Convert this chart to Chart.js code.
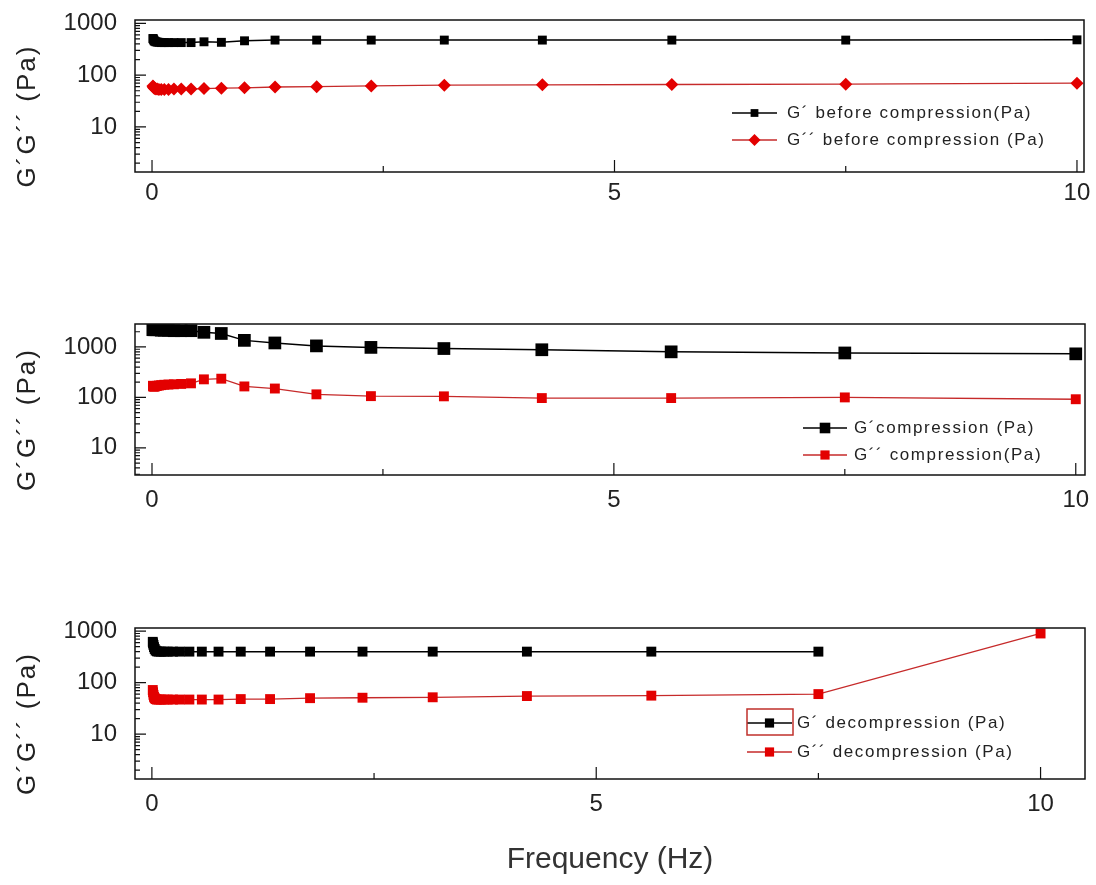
<!DOCTYPE html>
<html>
<head>
<meta charset="utf-8">
<script src="https://cdn.jsdelivr.net/npm/chart.js@4/dist/chart.umd.min.js"></script>
<style>
  html, body { margin: 0; padding: 0; background: #fff; }
  #wrap { position: relative; width: 1096px; height: 885px; }
  canvas { position: absolute; left: 0; }
</style>
</head>
<body>
<div id="wrap">
  <canvas id="c1" width="1096" height="290" style="top:0"></canvas>
  <canvas id="c2" width="1096" height="290" style="top:300px"></canvas>
  <canvas id="c3" width="1096" height="285" style="top:600px"></canvas>
</div>
<script>
// Frequency sweep (Hz)
const freq = [0.01, 0.0133, 0.0178, 0.0237, 0.0316, 0.0422, 0.0562, 0.075, 0.1, 0.133, 0.178, 0.237,
  0.316, 0.422, 0.562, 0.75, 1.0, 1.33, 1.78, 2.37, 3.16, 4.22, 5.62, 7.5, 10];

// Panel 1: before compression
const gBefore = [510, 500, 480, 460, 450, 440, 435, 430, 425, 425, 425, 425, 425, 425, 440, 430, 460, 475,
  475, 475, 475, 475, 475, 475, 480];
const ggBefore = [62, 60, 58, 56, 55, 54, 54, 53, 53, 53, 53, 54, 54, 54, 55, 56, 57, 59, 60, 62, 64, 65, 66, 67, 70];

// Panel 2: compression
const gComp = [2200, 2200, 2200, 2200, 2200, 2200, 2200, 2200, 2150, 2150, 2150, 2100, 2100, 2100, 1950, 1850,
  1350, 1200, 1050, 980, 930, 880, 800, 760, 730];
const ggComp = [170, 165, 165, 165, 165, 168, 170, 172, 175, 178, 180, 182, 185, 190, 228, 235, 165, 150, 115,
  106, 105, 97, 97, 100, 92];

// Panel 3: decompression (G' has no point at 10 Hz)
const gDecomp = [620, 580, 540, 490, 450, 420, 405, 400, 400, 400, 400, 400, 400, 400, 400, 400, 400, 400,
  400, 400, 400, 400, 400, 400];
const ggDecomp = [72, 65, 58, 53, 50, 48, 47, 47, 47, 47, 47, 47, 47, 47, 47, 47, 48, 48, 50, 51, 52, 55, 56, 60, 900];

const yTickValues = [10, 100, 1000];
const xTickValues = [0, 5, 10];
const xMinorTicks = [2.5, 7.5];

const labels1 = ['G´ before compression(Pa)', 'G´´ before compression (Pa)'];
const labels2 = ['G´compression (Pa)', 'G´´ compression(Pa)'];
const labels3 = ['G´ decompression (Pa)', 'G´´ decompression (Pa)'];

const FONT = "'Liberation Sans', Arial, sans-serif";
const BLACK = '#000000';
const RED_LINE = '#c62a2a';
const RED_MARK = '#e30000';

const pts = (ys) => ys.map((y, i) => ({ x: freq[i], y }));

// box around the plot + inward ticks
const framePlugin = {
  id: 'frame',
  afterDraw(chart) {
    const { ctx, chartArea: a, scales: { x, y } } = chart;
    ctx.save();
    ctx.strokeStyle = '#111';
    ctx.lineWidth = 1.5;
    ctx.strokeRect(a.left, a.top, a.right - a.left, a.bottom - a.top);
    ctx.beginPath();
    ctx.lineWidth = 1.2;
    for (let d = 1; d <= 1000; d *= 10) {
      for (let m = 1; m < 10; m++) {
        const v = d * m;
        if (v < y.min || v > y.max) continue;
        const py = y.getPixelForValue(v);
        ctx.moveTo(a.left, py);
        ctx.lineTo(a.left + (m === 1 ? 11 : 5), py);
      }
    }
    xTickValues.forEach(v => {
      const px = x.getPixelForValue(v);
      ctx.moveTo(px, a.bottom);
      ctx.lineTo(px, a.bottom - 12);
    });
    xMinorTicks.forEach(v => {
      const px = x.getPixelForValue(v);
      ctx.moveTo(px, a.bottom);
      ctx.lineTo(px, a.bottom - 6);
    });
    ctx.stroke();
    ctx.restore();
  }
};

// rotated y title, a bit below the plot centre like the original
const yTitlePlugin = {
  id: 'yTitle',
  afterDraw(chart, args, opts) {
    const { ctx, chartArea: a } = chart;
    ctx.save();
    ctx.translate(28, (a.top + a.bottom) / 2 + 20);
    ctx.rotate(-Math.PI / 2);
    ctx.font = `26px ${FONT}`;
    if ('letterSpacing' in ctx) ctx.letterSpacing = '2px';
    ctx.textAlign = 'center';
    ctx.textBaseline = 'middle';
    ctx.fillStyle = '#222';
    ctx.fillText(opts.text, 0, 0);
    ctx.restore();
  }
};

// legend placed inside the plot, lower right
const boxLegendPlugin = {
  id: 'boxLegend',
  afterDraw(chart, args, opts) {
    const { ctx } = chart;
    ctx.save();
    chart.data.datasets.forEach((ds, i) => {
      const y = opts.y + i * opts.dy;
      ctx.strokeStyle = ds.borderColor;
      ctx.lineWidth = 1.5;
      ctx.beginPath();
      ctx.moveTo(opts.x, y);
      ctx.lineTo(opts.x + opts.len, y);
      ctx.stroke();
      ctx.fillStyle = ds.pointBackgroundColor;
      ctx.strokeStyle = ds.pointBackgroundColor;
      Chart.helpers.drawPoint(ctx, {
        pointStyle: ds.pointStyle, rotation: 0, radius: opts.markR[i], borderWidth: 0
      }, opts.x + opts.len / 2, y);
      ctx.font = `17px ${FONT}`;
      if ('letterSpacing' in ctx) ctx.letterSpacing = '1.6px';
      ctx.fillStyle = '#222';
      ctx.textAlign = 'left';
      ctx.textBaseline = 'middle';
      ctx.fillText(ds.label, opts.textX, y);
      if ('letterSpacing' in ctx) ctx.letterSpacing = '0px';
    });
    if (opts.box) {
      ctx.strokeStyle = '#c0302b';
      ctx.lineWidth = 1.5;
      ctx.strokeRect(opts.box[0], opts.box[1], opts.box[2], opts.box[3]);
    }
    ctx.restore();
  }
};

// keep the tick labels from pushing the plot area around
function noLabelPadding(s) {
  s.paddingTop = 0;
  s.paddingBottom = 0;
  s.paddingLeft = 0;
  s.paddingRight = 0;
}

function makePanel(id, p) {
  return new Chart(document.getElementById(id), {
    type: 'line',
    data: {
      datasets: [
        {
          label: p.labels[0],
          data: pts(p.g),
          borderColor: BLACK,
          backgroundColor: BLACK,
          pointBackgroundColor: BLACK,
          pointBorderColor: BLACK,
          pointBorderWidth: 0,
          pointStyle: 'rect',
          pointRadius: p.r[0],
          borderWidth: 1.5,
          tension: 0,
        },
        {
          label: p.labels[1],
          data: pts(p.gg),
          borderColor: RED_LINE,
          backgroundColor: RED_MARK,
          pointBackgroundColor: RED_MARK,
          pointBorderColor: RED_MARK,
          pointBorderWidth: 0,
          pointStyle: p.redStyle,
          pointRadius: p.r[1],
          borderWidth: 1.3,
          tension: 0,
        },
      ],
    },
    options: {
      responsive: false,
      animation: false,
      devicePixelRatio: 1,
      layout: { padding: { top: p.top, left: 0, right: p.right, bottom: 0 } },
      scales: {
        x: {
          type: 'linear',
          min: p.xMin,
          max: p.xMax,
          grid: { display: false, drawTicks: false },
          border: { display: false },
          afterBuildTicks: (s) => { s.ticks = xTickValues.map(v => ({ value: v })); },
          afterFit: (s) => { s.height = p.xHeight; noLabelPadding(s); },
          ticks: {
            padding: p.xPad,
            color: '#222',
            font: { family: FONT, size: 24 },
            maxRotation: 0,
            callback: (v) => String(v),
          },
          title: p.xTitle ? {
            display: true,
            text: p.xTitle,
            color: '#333',
            font: { family: FONT, size: 30 },
            padding: { top: 0, bottom: 7 },
          } : { display: false },
        },
        y: {
          type: 'logarithmic',
          min: p.yMin,
          max: p.yMax,
          grid: { display: false, drawTicks: false },
          border: { display: false },
          afterBuildTicks: (s) => { s.ticks = yTickValues.map(v => ({ value: v })); },
          afterFit: (s) => { s.width = 135; noLabelPadding(s); },
          ticks: {
            padding: 18,
            color: '#222',
            font: { family: FONT, size: 24 },
            callback: (v) => String(v),
          },
        },
      },
      plugins: {
        legend: { display: false },
        tooltip: { enabled: false },
        yTitle: { text: 'G´G´´ (Pa)' },
        boxLegend: p.legend,
      },
    },
    plugins: [framePlugin, yTitlePlugin, boxLegendPlugin],
  });
}

makePanel('c1', {
  labels: labels1, g: gBefore, gg: ggBefore, r: [6.3, 6.5], redStyle: 'rectRot',
  top: 20, right: 12, xHeight: 118, xPad: 7,
  xMin: -0.184, xMax: 10.076, yMin: 1.35, yMax: 1160,
  legend: { x: 732, y: 113, dy: 27, len: 45, textX: 787, markR: [5.5, 6] },
});

makePanel('c2', {
  labels: labels2, g: gComp, gg: ggComp, r: [9, 7], redStyle: 'rect',
  top: 24, right: 11, xHeight: 115, xPad: 11,
  xMin: -0.184, xMax: 10.1, yMin: 2.9, yMax: 2850,
  legend: { x: 803, y: 128, dy: 27, len: 44, textX: 854, markR: [7.5, 6.5] },
});

makePanel('c3', {
  labels: labels3, g: gDecomp, gg: ggDecomp, r: [7, 7], redStyle: 'rect',
  top: 28, right: 11, xHeight: 106, xPad: 11, xTitle: 'Frequency (Hz)',
  xMin: -0.19, xMax: 10.5, yMin: 1.35, yMax: 1150,
  legend: { x: 747, y: 123, dy: 29, len: 45, textX: 797, markR: [6.5, 6.5], box: [747, 109, 46, 26] },
});
</script>
</body>
</html>
